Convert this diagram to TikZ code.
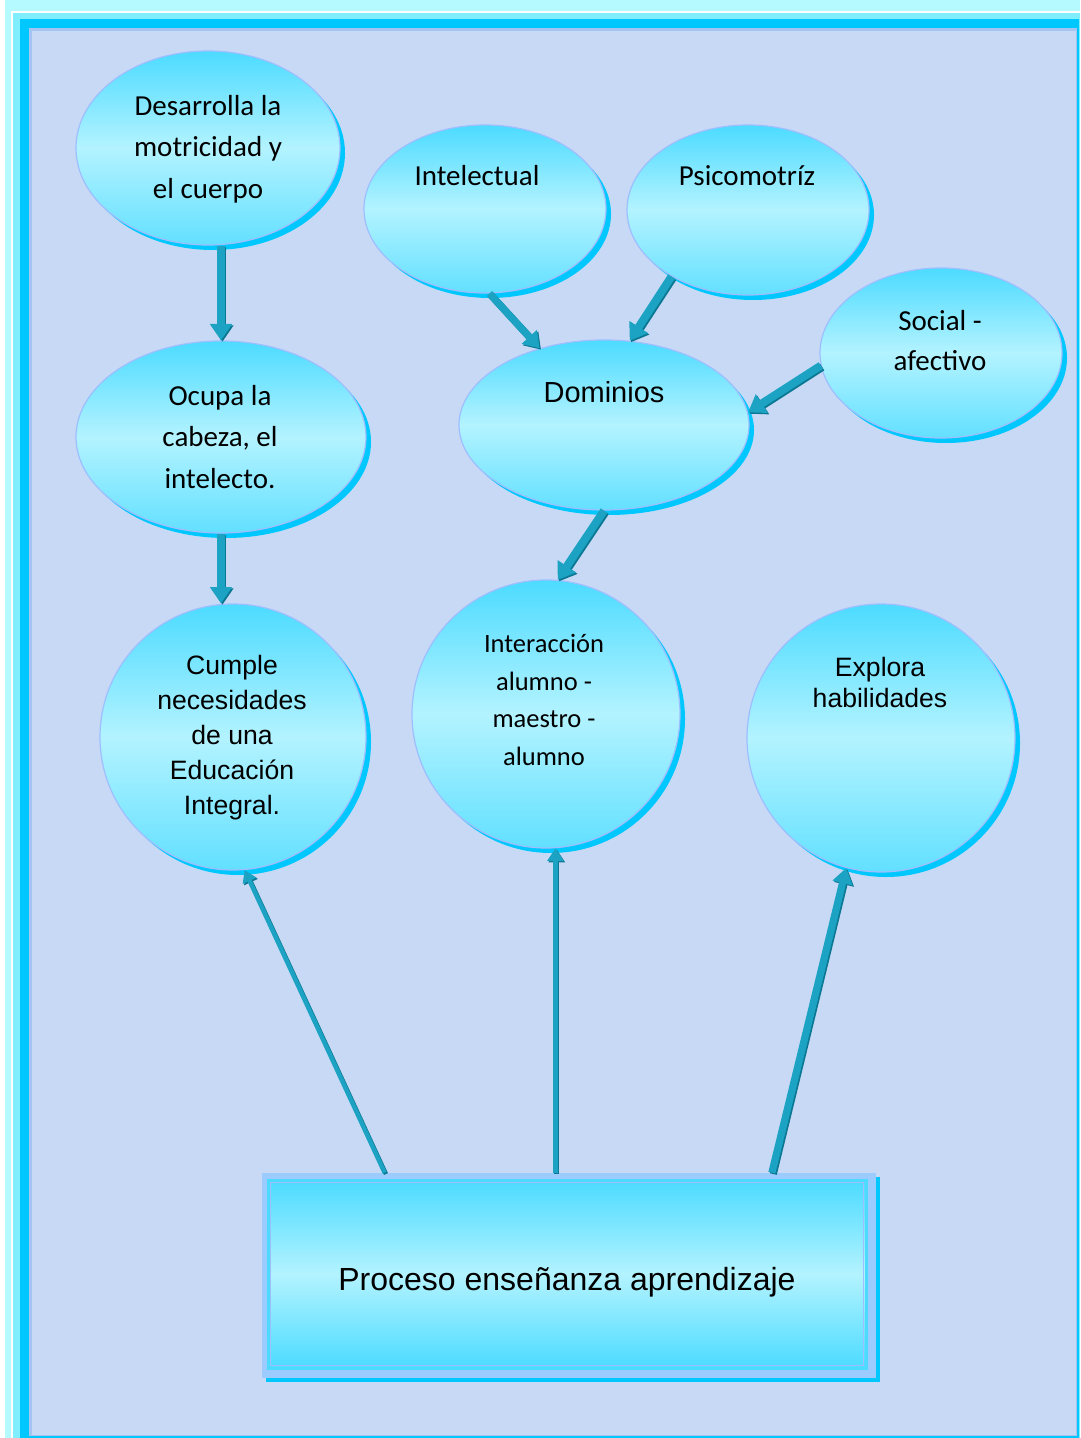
\documentclass[tikz,border=0pt]{standalone}
\usepackage{fontspec}
\setmainfont{Liberation Sans}
\newfontfamily\carl{Carlito}
\usetikzlibrary{shapes.geometric,shadows,arrows.meta,calc}

\definecolor{palecyan}{HTML}{B4FAFF}
\definecolor{lightcyan}{HTML}{80EEFF}
\definecolor{framecyan}{HTML}{00C8FF}
\definecolor{lavender}{HTML}{A5C4F2}
\definecolor{paper}{HTML}{C8D9F5}
\definecolor{bubtop}{HTML}{4CDBFF}
\definecolor{bubmid}{HTML}{B3F3FF}
\definecolor{bubbot}{HTML}{62E0FF}
\definecolor{rimblue}{HTML}{9EBEFF}
\definecolor{boxrim}{HTML}{9CCBFF}
\definecolor{pipeteal}{HTML}{1CA3C3}
\definecolor{pipedark}{HTML}{0B7893}

\begin{document}
\begin{tikzpicture}[x=0.5pt,y=-0.5pt,
	bubble/.style={draw=rimblue, line width=0.6pt, inner sep=0pt,
		top color=bubtop, bottom color=bubbot, middle color=bubmid,
		drop shadow={shadow xshift=2.5pt, shadow yshift=-2.5pt, fill=framecyan, opacity=1}},
	oval/.style={bubble, ellipse},
	round/.style={bubble, circle},
	cal/.style={font=\carl\fontsize{14.5}{20.75}\selectfont, align=center, inner sep=0pt},
	ari/.style={font=\fontsize{13.3}{17.5}\selectfont, align=center, inner sep=0pt},
	pipe/.style={line width=#1, -{Triangle[length=3pt 1.3, width=3pt 1.9]}}]

	\useasboundingbox (0,0) rectangle (1080,1438);

	% page frame
	\fill[white] (0,0) rectangle (1080,1438);
	\fill[palecyan] (5,0) rectangle (1080,1438);
	\draw[white, line width=1pt] (12,12) rectangle (1082,1440);
	\fill[lightcyan] (13,13) rectangle (1080,1438);
	\fill[framecyan] (20,19) rectangle (1079,1438);
	\fill[lavender] (29,28) rectangle (1077,1436);
	\fill[paper] (32,31) rectangle (1076,1435);

	% upper bubbles
	\node[oval, minimum width=132pt, minimum height=97pt] (motor) at (208,148) {};
	\node[oval, minimum width=121pt, minimum height=84pt] (intel) at (485,209) {};
	\node[oval, minimum width=121pt, minimum height=85pt] (psico) at (748,210) {};
	\node[oval, minimum width=121pt, minimum height=85pt] (social) at (941,353) {};
	\node[oval, minimum width=145pt, minimum height=85pt] (dom) at (604,425) {};
	\node[oval, minimum width=145pt, minimum height=96pt] (cabeza) at (221,437) {};

	% lower bubbles
	\node[round, minimum size=133pt] (cumple) at (233,737) {};
	\node[round, minimum size=134pt] (inter) at (546,714) {};
	\node[round, minimum size=134pt] (explora) at (881,738) {};

	% texts
	\node[cal] (motor-t) at (208,149) {Desarrolla la\\motricidad y\\el cuerpo};
	\node[cal] (intel-t) at (477,176) {Intelectual};
	\node[cal] (psico-t) at (747,176) {Psicomotríz};
	\node[cal, font=\carl\fontsize{14.5}{20}\selectfont] (social-t) at (940,341) {Social -\\afectivo};
	\node[ari, font=\fontsize{14.5}{17}\selectfont] (dom-t) at (604,392) {Dominios};
	\node[cal] (cabeza-t) at (220,437) {Ocupa la\\cabeza, el\\intelecto.};
	\node[ari] (cumple-t) at (232,738) {Cumple\\necesidades\\de una\\Educación\\Integral.};
	\node[cal, font=\carl\fontsize{13.25}{18.8}\selectfont] (inter-t) at (544,700) {Interacción\\alumno -\\maestro -\\alumno};
	\node[ari, font=\fontsize{13.3}{15.5}\selectfont] (explora-t) at (880,682) {Explora\\habilidades};

	% bottom box
	\node[rectangle, fill=boxrim, minimum width=307pt, minimum height=102.5pt,
		drop shadow={shadow xshift=2pt, shadow yshift=-2pt, fill=framecyan, opacity=1}] (box) at (569,1275.5) {};
	\node[rectangle, draw=bubtop, line width=1.5pt, minimum width=299pt, minimum height=94pt,
		top color=bubtop, bottom color=bubtop, middle color=bubmid] (boxin) at (567,1274) {};
	\draw[rimblue, line width=0.6pt] ([shift={(2pt,-2pt)}]boxin.north west) rectangle ([shift={(-2pt,2pt)}]boxin.south east);
	\node[font=\fontsize{16}{19}\selectfont, inner sep=0pt] (box-t) at (567,1282) {Proceso enseñanza aprendizaje};

	\coordinate (p1) at ($(box.north west)!0.2!(box.north east)$);
	\coordinate (p2) at (box.north -| inter.-86);
	\coordinate (p3) at ($(box.north west)!0.83!(box.north east)$);

	% connectors
	\foreach \s/\t/\w in {
		{cabeza.north |- motor.south}/cabeza.north/4pt,
		cabeza.south/{cabeza.south |- cumple.north}/4pt,
		intel.-87/dom.130/3.6pt,
		psico.-139/dom.73/4pt,
		social.186/dom.5/4pt,
		dom.south/inter.85/4pt,
		p1/cumple.-85/2.2pt,
		p2/inter.-86/2.6pt,
		p3/explora.-105/3.6pt} {
		\draw[pipe=\w, draw=pipedark, fill=pipedark, transform canvas={shift={(0.7pt,-0.7pt)}}] (\s) -- (\t);
		\draw[pipe=\w, draw=pipeteal, fill=pipeteal] (\s) -- (\t);
	}
\end{tikzpicture}
\end{document}
